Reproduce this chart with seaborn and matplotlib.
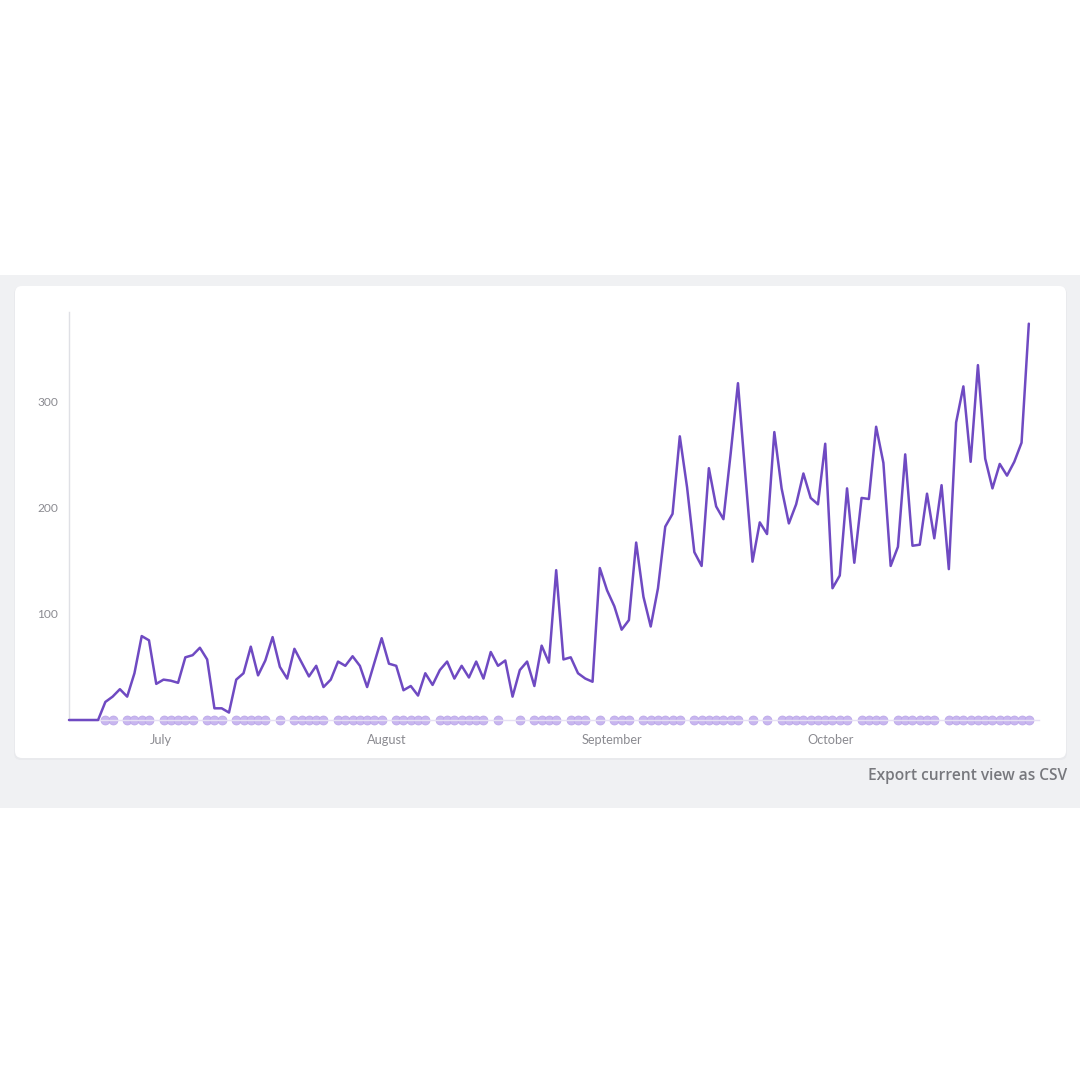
import numpy as np
import matplotlib
matplotlib.use("Agg")
import matplotlib.pyplot as plt
from matplotlib.patches import FancyBboxPatch, Rectangle
import pandas as pd
import seaborn as sns

# daily values
daily_counts = [
    0, 0, 0, 0, 0, 17, 22, 29, 22, 44, 79, 75, 34, 38, 37, 35, 59, 61, 68, 57,
    11, 11, 7, 38, 44, 69, 42, 56, 78, 50, 39, 67, 54, 41, 51, 31, 38, 55, 51, 60,
    51, 31, 54, 77, 53, 51, 28, 32, 23, 44, 33, 47, 55, 39, 51, 40, 55, 39, 64, 51,
    56, 22, 47, 55, 32, 70, 54, 141, 57, 59, 44, 39, 36, 143, 122, 107, 85, 94, 167, 116,
    88, 124, 182, 194, 267, 219, 158, 145, 237, 201, 189, 251, 317, 232, 149, 186, 175, 271, 218, 185,
    203, 232, 209, 203, 260, 124, 136, 218, 148, 209, 208, 276, 242, 145, 163, 250, 164, 165, 213, 171,
    221, 142, 280, 314, 243, 334, 246, 218, 241, 230, 243, 261, 373,
]

# days that carry an event marker on the baseline
event_runs = [
    (5, 6), (8, 11), (13, 17), (19, 21), (23, 27), (29, 29), (31, 35), (37, 43),
    (45, 49), (51, 57), (59, 59), (62, 62), (64, 67), (69, 71), (73, 73), (75, 77),
    (79, 84), (86, 92), (94, 94), (96, 96), (98, 107), (109, 112), (114, 119), (121, 132),
]

month_labels = ["July", "August", "September", "October"]
month_positions = [12.7, 43.7, 74.7, 104.7]
y_ticks = [100, 200, 300]

LINE_COLOR = "#6f4ac2"
DOT_COLOR = "#c8b6ef"
DOT_EDGE = "#b9a4e8"
TEXT_COLOR = "#8b8b91"

df = pd.DataFrame({"day": np.arange(len(daily_counts)), "count": daily_counts})
event_days = [d for start, end in event_runs for d in range(start, end + 1)]
events = pd.DataFrame({"day": event_days, "count": 0})

sns.set_theme(style="white")
plt.rcParams["font.family"] = ["Lato", "DejaVu Sans"]

fig = plt.figure(figsize=(10.8, 10.8), dpi=100, facecolor="white")

# page background and card, drawn in pixel coordinates
bg = fig.add_axes([0, 0, 1, 1])
bg.set_xlim(0, 1080)
bg.set_ylim(1080, 0)
bg.axis("off")
bg.add_patch(Rectangle((0, 275), 1080, 533, facecolor="#f0f1f3", edgecolor="none"))
bg.add_patch(FancyBboxPatch((14, 287), 1053, 473, boxstyle="round,pad=0,rounding_size=7",
                            facecolor="#e9eaed", edgecolor="none"))
bg.add_patch(FancyBboxPatch((15, 286), 1051, 472, boxstyle="round,pad=0,rounding_size=7",
                            facecolor="white", edgecolor="none"))
bg.text(1067, 776.5, "Export current view as CSV", ha="right", va="center",
        fontsize=11.2, fontweight=600, family="Open Sans", color="#77787d")

# plot area
ax = fig.add_axes([69 / 1080, 360 / 1080, 970 / 1080, 408 / 1080])
ax.patch.set_alpha(0)
sns.lineplot(data=df, x="day", y="count", ax=ax, color=LINE_COLOR, lw=1.8, zorder=3, clip_on=False)
sns.scatterplot(data=events, x="day", y="count", ax=ax, color=DOT_COLOR, s=42,
                edgecolor=DOT_EDGE, linewidth=0.5, zorder=2, clip_on=False)

ax.set_xlim(0, 133.4)
ax.set_ylim(0, 384)
ax.set_xlabel("")
ax.set_ylabel("")
ax.set_xticks(month_positions, month_labels)
ax.set_yticks(y_ticks)
ax.tick_params(axis="x", length=0, pad=10, labelsize=9.2, labelcolor=TEXT_COLOR)
ax.tick_params(axis="y", length=0, pad=8, labelsize=8.6, labelcolor=TEXT_COLOR)

for side in ["top", "right"]:
    ax.spines[side].set_visible(False)
ax.spines["left"].set_color("#dfe0e5")
ax.spines["left"].set_linewidth(1)
ax.spines["bottom"].set_color("#e6e0f4")
ax.spines["bottom"].set_linewidth(1)

fig.savefig("out.png", dpi=100)
plt.close(fig)
